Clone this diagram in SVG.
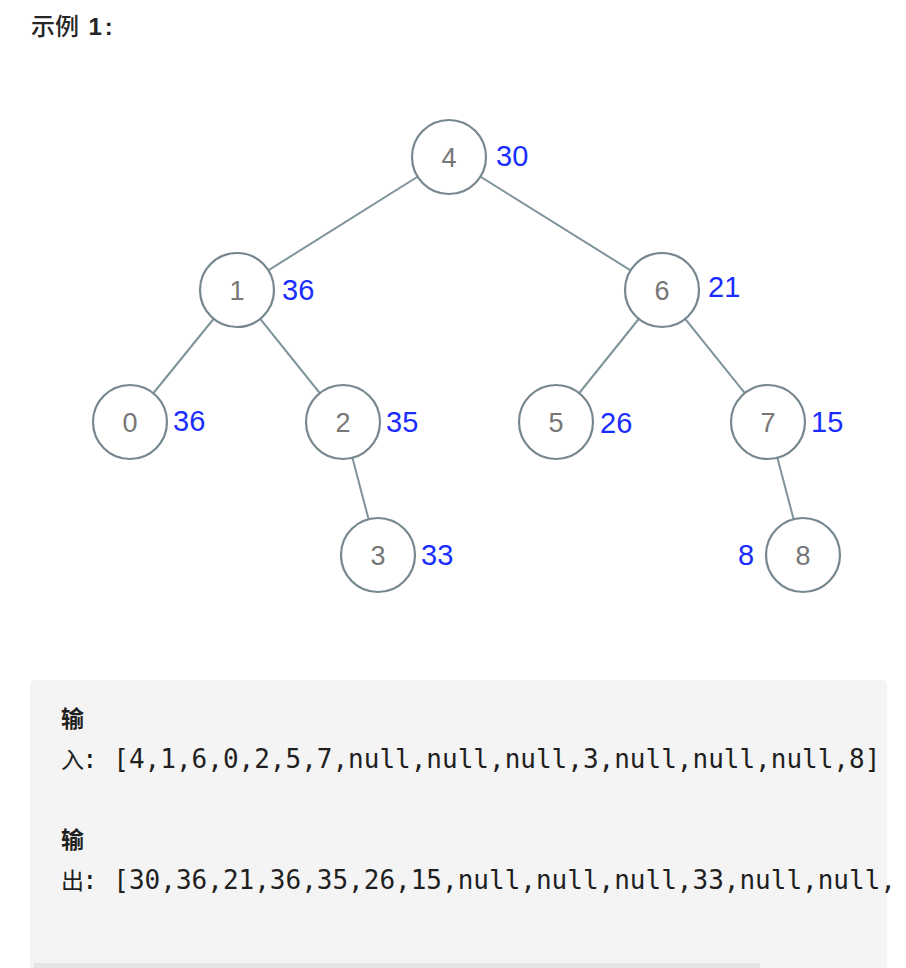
<svg xmlns="http://www.w3.org/2000/svg" width="906" height="968" viewBox="0 0 906 968">
<style>
.edge{stroke:#7f939b;stroke-width:2;fill:none}
.node circle{fill:#fff;stroke:#76878f;stroke-width:2.2}
.node text.v{font-family:"Liberation Sans","DejaVu Sans",sans-serif;font-size:27px;fill:#777;text-anchor:middle}
.node text.s{font-family:"Liberation Sans","DejaVu Sans",sans-serif;font-size:29px;fill:#1a2dff}
.mono{font-family:"DejaVu Sans Mono","Liberation Mono",monospace;font-size:26px;fill:#1f1f1f;font-weight:normal}
.cjk{font-family:"Noto Sans CJK SC","Liberation Sans",sans-serif;font-size:23px;fill:#1f1f1f}
</style>
<rect width="906" height="968" fill="#fff"/>
<text x="31" y="35" font-family="Noto Sans CJK SC,sans-serif" font-size="24" font-weight="500" fill="#262626">示例 <tspan font-weight="bold" font-family="Liberation Sans,sans-serif" dx="4" letter-spacing="3">1:</tspan></text>
<g id="edges">
<line class="edge" x1="449" y1="157" x2="237" y2="290"/>
<line class="edge" x1="449" y1="157" x2="662" y2="290"/>
<line class="edge" x1="237" y1="290" x2="130" y2="422"/>
<line class="edge" x1="237" y1="290" x2="343" y2="422"/>
<line class="edge" x1="662" y1="290" x2="556" y2="422"/>
<line class="edge" x1="662" y1="290" x2="768" y2="422"/>
<line class="edge" x1="343" y1="422" x2="378" y2="555"/>
<line class="edge" x1="768" y1="422" x2="803" y2="555"/>
</g>
<g id="n4" class="node"><circle cx="449" cy="157" r="37"/><text class="v" x="449" y="167">4</text><text class="s" x="496" y="166">30</text></g>
<g id="n1" class="node"><circle cx="237" cy="290" r="37"/><text class="v" x="237" y="300">1</text><text class="s" x="282" y="300">36</text></g>
<g id="n6" class="node"><circle cx="662" cy="290" r="37"/><text class="v" x="662" y="300">6</text><text class="s" x="708" y="297">21</text></g>
<g id="n0" class="node"><circle cx="130" cy="422" r="37"/><text class="v" x="130" y="432">0</text><text class="s" x="173" y="431">36</text></g>
<g id="n2" class="node"><circle cx="343" cy="422" r="37"/><text class="v" x="343" y="432">2</text><text class="s" x="386" y="432">35</text></g>
<g id="n5" class="node"><circle cx="556" cy="422" r="37"/><text class="v" x="556" y="432">5</text><text class="s" x="600" y="433">26</text></g>
<g id="n7" class="node"><circle cx="768" cy="422" r="37"/><text class="v" x="768" y="432">7</text><text class="s" x="811" y="432">15</text></g>
<g id="n3" class="node"><circle cx="378" cy="555" r="37"/><text class="v" x="378" y="565">3</text><text class="s" x="421" y="565">33</text></g>
<g id="n8" class="node"><circle cx="803" cy="555" r="37"/><text class="v" x="803" y="565">8</text><text class="s" x="738" y="565">8</text></g>
<g id="box">
<rect x="30" y="680" width="857" height="300" rx="5" fill="#f4f4f4"/>
<text class="cjk" x="61" y="727" font-weight="bold">输</text>
<text class="cjk" x="61" y="768">入<tspan class="mono" dx="-2">: [4,1,6,0,2,5,7,null,null,null,3,null,null,null,8]</tspan></text>
<text class="cjk" x="61" y="848" font-weight="bold">输</text>
<text class="cjk" x="61" y="889">出<tspan class="mono" dx="-2">: [30,36,21,36,35,26,15,null,null,null,33,null,null,</tspan></text>
<rect x="34" y="963" width="726" height="6" fill="#e4e4e4"/>
</g>
</svg>
